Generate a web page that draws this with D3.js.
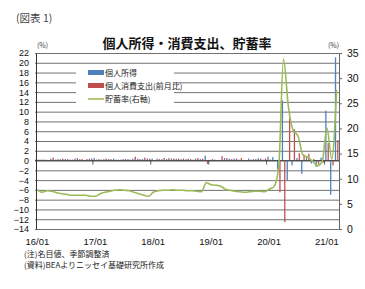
<!DOCTYPE html>
<html lang="ja">
<head>
<meta charset="UTF-8">
<title>個人所得・消費支出、貯蓄率</title>
<style>
  body { margin: 0; background: #fff; }
  svg { display: block; }
  text { font-family: "Noto Sans CJK JP", "Noto Sans", sans-serif; fill: #222; }
  .tick text { font-family: "Liberation Sans", "Noto Sans", sans-serif; fill: #111; }
  .grid line { stroke: #333; stroke-width: 0.7; }
</style>
</head>
<body>
<svg id="chart" width="365" height="289"></svg>
<script src="https://d3js.org/d3.v7.min.js"></script>
<script>
// months 2016/01 .. 2021/03
const months = [];
for (let y = 2016; y <= 2021; y++) {
  for (let m = 1; m <= 12; m++) {
    if (y === 2021 && m > 3) break;
    months.push(String(y % 100).padStart(2, "0") + "/" + String(m).padStart(2, "0"));
  }
}

// 個人所得 (前月比, %)
const income = [
  0.4, 0.2, 0.2, 0.4, 0.2, 0.3, 0.3, 0.2, 0.4, 0.3, 0.1, 0.4,
  0.5, 0.3, 0.3, 0.3, 0.4, 0.2, 0.3, 0.3, 0.4, 0.4, 0.3, 0.4,
  0.4, 0.4, 0.3, 0.3, 0.4, 0.4, 0.3, 0.3, 0.3, 0.4, 0.3, 1.0,
  -0.1, 0.2, 0.1, 0.5, 0.4, 0.4, 0.2, 0.1, 0.4, 0.3, 0.5, 0.2,
  0.8, 0.7, -1.8, 12.3, -4.0, -1.0, 0.5, -2.7, 0.7, -0.6, -1.3, 0.6,
  10.2, -7.0, 21.1
];

// 個人消費支出 (前月比, %)
const consumption = [
  0.2, 0.2, 0.1, 0.6, 0.3, 0.4, 0.3, 0.2, 0.5, 0.3, 0.3, 0.4,
  0.2, 0.2, 0.4, 0.3, 0.2, 0.2, 0.3, 0.2, 0.8, 0.3, 0.6, 0.4,
  0.1, 0.3, 0.5, 0.5, 0.4, 0.4, 0.4, 0.4, 0.2, 0.5, 0.4, -0.7,
  0.3, 0.1, 0.9, 0.5, 0.3, 0.4, 0.5, 0.1, 0.2, 0.3, 0.4, 0.4,
  0.2, -0.1, -6.5, -12.6, 8.6, 6.4, 1.5, 1.1, 1.4, 0.3, -0.7, -0.4,
  3.6, -1.0, 4.2
];

// 貯蓄率 (右軸, %)
const savingRate = [
  7.8, 7.3, 7.6, 7.5, 7.2, 7.0, 6.9, 6.7, 6.7, 6.7, 6.7, 6.5,
  6.5, 7.0, 7.3, 7.5, 7.7, 7.8, 7.7, 7.6, 7.3, 7.0, 6.7, 6.5,
  7.3, 7.6, 7.7, 7.7, 7.8, 7.7, 7.7, 7.6, 7.6, 7.5, 7.4, 9.2,
  8.8, 8.7, 8.5, 7.9, 7.7, 7.5, 7.4, 7.3, 7.4, 7.5, 7.5, 7.4,
  7.9, 8.4, 12.2, 33.8, 24.4, 19.6, 18.5, 14.8, 14.3, 13.5, 12.6, 13.3,
  20.1, 13.9, 27.7
];

const leftTicks = d3.range(-14, 23, 2);
const rightTicks = d3.range(0, 36, 5);
const yearLabels = months.filter(m => m.endsWith("/01"));

const svg = d3.select("#chart");
const plotL = 35, plotR = 339, plotT = 53, plotB = 229;

const x = d3.scaleBand().domain(months).range([plotL, plotR]).padding(0);
const sub = d3.scaleBand().domain(["income", "consumption"]).range([0.7, x.bandwidth() - 0.5]).paddingInner(0.45);
const yL = d3.scaleLinear().domain([-14, 22]).range([plotB, plotT]);
const yR = d3.scaleLinear().domain([0, 35]).range([plotB, plotT]);

// header texts
svg.append("text").attr("x", 16).attr("y", 22)
  .style("font-size", "10.5px").style("fill", "#444").text("(図表 1)");
svg.append("text").attr("x", 187).attr("y", 48).attr("text-anchor", "middle")
  .style("font-size", "13px").style("font-weight", "bold").style("fill", "#111")
  .text("個人所得・消費支出、貯蓄率");
svg.append("text").attr("x", 37).attr("y", 48)
  .style("font-size", "7px").style("fill", "#444").text("(%)");
svg.append("text").attr("x", 328).attr("y", 48)
  .style("font-size", "7px").style("fill", "#444").text("(%)");

// grid lines
svg.append("g").attr("class", "grid")
  .attr("transform", `translate(${plotL},0)`)
  .call(d3.axisLeft(yL).tickValues(leftTicks).tickSize(-(plotR - plotL)).tickFormat(""))
  .call(g => g.select(".domain").remove());

// legend background (hides the grid behind it)
svg.append("rect").attr("x", 76).attr("y", 64).attr("width", 98).attr("height", 41).attr("fill", "#fff");

// bars
const bars = svg.append("g");
bars.selectAll("rect.inc").data(income).join("rect")
  .attr("x", (d, i) => x(months[i]) + sub("income"))
  .attr("width", sub.bandwidth())
  .attr("y", d => yL(Math.max(0, d)))
  .attr("height", d => Math.abs(yL(d) - yL(0)))
  .attr("fill", "#4F81BD");
bars.selectAll("rect.con").data(consumption).join("rect")
  .attr("x", (d, i) => x(months[i]) + sub("consumption"))
  .attr("width", sub.bandwidth())
  .attr("y", d => yL(Math.max(0, d)))
  .attr("height", d => Math.abs(yL(d) - yL(0)))
  .attr("fill", "#C0504D");

// zero axis with year tick marks
svg.append("line").attr("x1", plotL).attr("x2", plotR)
  .attr("y1", yL(0)).attr("y2", yL(0)).attr("stroke", "#333").attr("stroke-width", 0.8);
svg.append("g").selectAll("line").data(yearLabels.slice(1)).join("line")
  .attr("x1", d => x(d)).attr("x2", d => x(d))
  .attr("y1", yL(0)).attr("y2", yL(0) + 4)
  .attr("stroke", "#333").attr("stroke-width", 0.8);

// saving rate line
const line = d3.line().x((d, i) => x(months[i]) + x.bandwidth() / 2).y(d => yR(d)).curve(d3.curveMonotoneX);
svg.append("path").datum(savingRate).attr("d", line)
  .attr("fill", "none").attr("stroke", "#9BBB59").attr("stroke-width", 1.6);

// left axis
svg.append("g").attr("transform", `translate(${plotL + 1},0)`)
  .call(d3.axisLeft(yL).tickValues(leftTicks).tickSize(0).tickPadding(7))
  .call(g => g.select(".domain").attr("stroke", "#333"))
  .call(g => g.selectAll(".tick text").style("font-size", "9px"));

// right axis
svg.append("g").attr("transform", `translate(${plotR},0)`)
  .call(d3.axisRight(yR).tickValues(rightTicks).tickSize(3).tickPadding(5))
  .call(g => g.selectAll("line, .domain").attr("stroke", "#666"))
  .call(g => g.selectAll(".tick text").style("font-size", "10.5px"));

// year labels
svg.append("g").selectAll("text").data(yearLabels).join("text")
  .attr("x", d => x(d) + x.bandwidth() / 2).attr("y", 245)
  .attr("text-anchor", "middle")
  .style("font-family", "'Liberation Sans', sans-serif").style("font-size", "9.5px").style("fill", "#111")
  .text(d => d);

// legend
const legend = svg.append("g").style("font-size", "8px");
legend.append("rect").attr("x", 88).attr("y", 70).attr("width", 16).attr("height", 5).attr("fill", "#4F81BD");
legend.append("text").attr("x", 105).attr("y", 76).text("個人所得");
legend.append("rect").attr("x", 88).attr("y", 83).attr("width", 16).attr("height", 5).attr("fill", "#C0504D");
legend.append("text").attr("x", 105).attr("y", 89).text("個人消費支出(前月比)");
legend.append("line").attr("x1", 88).attr("x2", 104).attr("y1", 99).attr("y2", 99)
  .attr("stroke", "#9BBB59").attr("stroke-width", 1.6);
legend.append("text").attr("x", 105).attr("y", 102).text("貯蓄率(右軸)");

// notes
svg.append("text").attr("x", 24).attr("y", 257).style("font-size", "8px").text("(注)名目値、季節調整済");
svg.append("text").attr("x", 24).attr("y", 268).style("font-size", "8px").text("(資料)BEAよりニッセイ基礎研究所作成");
</script>
</body>
</html>
